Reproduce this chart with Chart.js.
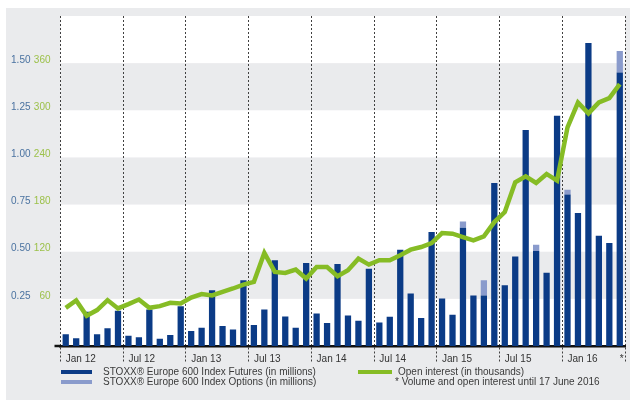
<!DOCTYPE html>
<html>
<head>
<meta charset="utf-8">
<script src="https://cdn.jsdelivr.net/npm/chart.js@4"></script>
<style>
  html, body { margin: 0; padding: 0; background: #fff; }
  #wrap { position: relative; width: 630px; height: 400px; font-family: "Liberation Sans", Arial, sans-serif; }
  #chart { position: absolute; left: 0; top: 0; }
  .leg { position: absolute; font-size: 10px; color: #3a3a3a; white-space: nowrap; line-height: 12px; }
  .sw { position: absolute; height: 4px; width: 31px; }
</style>
</head>
<body>
<div id="wrap">
  <canvas id="chart" width="630" height="400"></canvas>
  <div class="sw" style="left:61px; top:370px; background:#0b3b86;"></div>
  <div class="leg" style="left:103px; top:366px;">STOXX® Europe 600 Index Futures (in millions)</div>
  <div class="sw" style="left:61px; top:380px; background:#8a9bcc;"></div>
  <div class="leg" style="left:103px; top:376px;">STOXX® Europe 600 Index Options (in millions)</div>
  <div class="sw" style="left:358px; top:370px; width:34px; background:#86bc25;"></div>
  <div class="leg" style="left:398px; top:366px;">Open interest (in thousands)</div>
  <div class="leg" style="left:395px; top:376px;">* Volume and open interest until 17 June 2016</div>
</div>
<script>
// months Jan 2012 .. Jun 2016
const months = [
  "Jan 12", "Feb 12", "Mar 12", "Apr 12", "May 12", "Jun 12", "Jul 12", "Aug 12", "Sep 12", "Oct 12", "Nov 12", "Dec 12",
  "Jan 13", "Feb 13", "Mar 13", "Apr 13", "May 13", "Jun 13", "Jul 13", "Aug 13", "Sep 13", "Oct 13", "Nov 13", "Dec 13",
  "Jan 14", "Feb 14", "Mar 14", "Apr 14", "May 14", "Jun 14", "Jul 14", "Aug 14", "Sep 14", "Oct 14", "Nov 14", "Dec 14",
  "Jan 15", "Feb 15", "Mar 15", "Apr 15", "May 15", "Jun 15", "Jul 15", "Aug 15", "Sep 15", "Oct 15", "Nov 15", "Dec 15",
  "Jan 16", "Feb 16", "Mar 16", "Apr 16", "May 16", "Jun 16"
];

// volume in millions
const futures = [
  0.062, 0.041, 0.181, 0.062, 0.094, 0.187, 0.055, 0.046, 0.194, 0.039, 0.058, 0.211,
  0.079, 0.097, 0.296, 0.106, 0.088, 0.349, 0.111, 0.194, 0.455, 0.157, 0.097, 0.440,
  0.173, 0.122, 0.435, 0.162, 0.134, 0.409, 0.125, 0.155, 0.511, 0.279, 0.148, 0.604,
  0.252, 0.166, 0.627, 0.268, 0.268, 0.865, 0.322, 0.474, 1.145, 0.504, 0.389, 1.221,
  0.803, 0.705, 1.607, 0.585, 0.546, 1.450
];
const options = [
  0, 0, 0, 0, 0, 0, 0, 0, 0, 0, 0, 0,
  0, 0, 0, 0, 0, 0, 0, 0, 0, 0, 0, 0,
  0, 0, 0, 0, 0, 0, 0, 0, 0, 0, 0, 0,
  0, 0, 0.033, 0, 0.081, 0, 0, 0, 0, 0.033, 0, 0,
  0.026, 0, 0, 0, 0, 0.115
];
// open interest in thousands
const openInterest = [
  48.6, 58, 38.5, 45.7, 58.4, 47.8, 53.3, 59.2, 48.6, 50.7, 55, 54.1,
  61.7, 66, 64.3, 68.9, 73.2, 78.2, 81.6, 118.4, 94.3, 93, 97.3, 85.9,
  100.6, 100.6, 88.8, 96.4, 111.2, 103.6, 109.1, 109.1, 115.4, 122.6, 126, 131,
  143.7, 143, 138.7, 134.5, 139.5, 157.7, 170.4, 208.4, 216, 207.6, 219, 210.6,
  278.2, 309.9, 296, 309.9, 315.4, 333.2
];

const volTicks = [0.25, 0.5, 0.75, 1.0, 1.25, 1.5];
const oiTicks = [60, 120, 180, 240, 300, 360];

const navy = "#0b3b86";
const lightBlue = "#8a9bcc";
const green = "#86bc25";
const bandGray = "#eaebed";

// grey panel + alternating bands behind the plot
const bandsPlugin = {
  id: "bands",
  beforeDraw(chart) {
    const { ctx, chartArea, scales } = chart;
    ctx.save();
    ctx.fillStyle = bandGray;
    ctx.fillRect(6, 8, chart.width - 6, chart.height - 8);
    ctx.fillStyle = "#fff";
    ctx.fillRect(chartArea.left, chartArea.top, chartArea.right - chartArea.left, chartArea.bottom - chartArea.top);
    ctx.fillStyle = bandGray;
    const y = scales.y;
    for (let v = 0.25; v < y.max; v += 0.5) {
      const top = y.getPixelForValue(v + 0.25);
      const bottom = y.getPixelForValue(v);
      ctx.fillRect(chartArea.left, top, chartArea.right - chartArea.left, bottom - top);
    }
    ctx.restore();
  },
  // baseline runs a little past the first dashed line
  afterDraw(chart) {
    const { ctx, chartArea } = chart;
    ctx.save();
    ctx.strokeStyle = "#111";
    ctx.lineWidth = 2.5;
    ctx.beginPath();
    ctx.moveTo(chartArea.left - 6, chartArea.bottom);
    ctx.lineTo(chartArea.left, chartArea.bottom);
    ctx.stroke();
    ctx.restore();
  }
};

new Chart(document.getElementById("chart"), {
  data: {
    labels: months,
    datasets: [
      {
        type: "line",
        label: "Open interest (in thousands)",
        data: openInterest,
        yAxisID: "y1",
        borderColor: green,
        borderWidth: 4.5,
        pointRadius: 0,
        tension: 0,
        order: 0
      },
      {
        type: "bar",
        label: "STOXX Europe 600 Index Futures (in millions)",
        data: futures,
        yAxisID: "y",
        backgroundColor: navy,
        barPercentage: 0.6,
        categoryPercentage: 1,
        order: 1
      },
      {
        type: "bar",
        label: "STOXX Europe 600 Index Options (in millions)",
        data: options,
        yAxisID: "y",
        backgroundColor: lightBlue,
        barPercentage: 0.6,
        categoryPercentage: 1,
        order: 1
      }
    ]
  },
  options: {
    responsive: false,
    animation: false,
    layout: { padding: { left: 8, right: 5, top: 14, bottom: 0 } },
    plugins: { legend: { display: false }, tooltip: { enabled: false } },
    scales: {
      x: {
        stacked: true,
        offset: true,
        afterFit: (s) => { s.height = 54; },
        grid: {
          offset: true,
          color: (c) => (c.index === undefined || c.index % 6 === 0) ? "#404040" : "transparent",
          lineWidth: 1,
          tickLength: 17,
          tickBorderDash: [2, 2]
        },
        border: { display: true, color: "#111", width: 2.5, dash: [2, 2] },
        ticks: {
          autoSkip: false,
          maxRotation: 0,
          minRotation: 0,
          align: "start",
          padding: -10,
          color: "#333",
          font: { family: "Liberation Sans", size: 10 },
          callback: (v, i) => i % 6 === 0 ? months[i] : (i === months.length - 1 ? "*" : "")
        }
      },
      y: {
        position: "left",
        stacked: true,
        min: 0,
        max: 1.75,
        weight: 1,
        afterFit: (s) => { s.width = 25.5; },
        afterBuildTicks: (s) => { s.ticks = volTicks.map((v) => ({ value: v })); },
        grid: { display: false, drawTicks: false },
        border: { display: false },
        ticks: {
          padding: 3,
          labelOffset: -3,
          color: "#4a72a0",
          font: { family: "Liberation Sans", size: 10 },
          callback: (v) => v.toFixed(2)
        }
      },
      y1: {
        position: "left",
        min: 0,
        max: 420,
        weight: 0,
        afterFit: (s) => { s.width = 27; },
        afterBuildTicks: (s) => { s.ticks = oiTicks.map((v) => ({ value: v })); },
        grid: { display: false, drawTicks: false },
        border: { display: false },
        ticks: {
          padding: 10,
          labelOffset: -3,
          color: "#9cc14a",
          font: { family: "Liberation Sans", size: 10 },
          callback: (v) => String(v)
        }
      }
    }
  },
  plugins: [bandsPlugin]
});
</script>
</body>
</html>
